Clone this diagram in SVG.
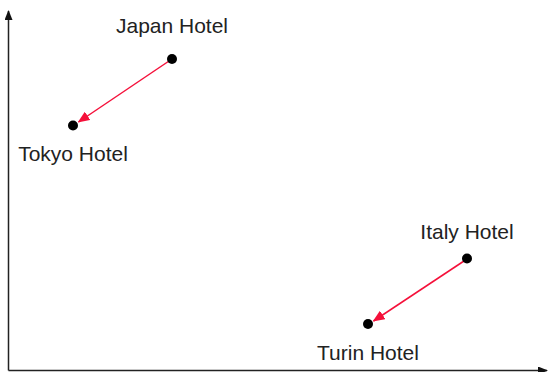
<svg xmlns="http://www.w3.org/2000/svg" width="548" height="372" viewBox="0 0 548 372">
<style>
.lbl{font-family:"Liberation Sans",Arial,Helvetica,sans-serif;font-size:21px;fill:#222;text-anchor:middle}
.dot{fill:#000}
.edge{stroke:#f5103a;stroke-width:1.5;fill:none}
.axis{stroke:#222;stroke-width:1.5;fill:none}
</style>
<defs>
<marker id="ah" markerWidth="12" markerHeight="10" refX="11" refY="5" orient="auto" markerUnits="userSpaceOnUse">
<path d="M0,0 L12,5 L0,10 Z" fill="#f5103a"/>
</marker>
<marker id="ax" markerWidth="10" markerHeight="8" refX="9" refY="4" orient="auto" markerUnits="userSpaceOnUse">
<path d="M0,0 L10,4 L0,8 Z" fill="#111"/>
</marker>
</defs>
<g id="axes">
<path class="axis" d="M8.5,370.5 L8.5,11" marker-end="url(#ax)"/>
<path class="axis" d="M8.5,370.5 L547,370.5" marker-end="url(#ax)"/>
</g>
<g id="connectors">
<path class="edge" d="M172,59 L78.5,122" marker-end="url(#ah)"/>
<path class="edge" d="M467,259 L373.5,321" marker-end="url(#ah)"/>
</g>
<g id="japan"><circle class="dot" cx="172" cy="59" r="5"/><text class="lbl" x="172" y="33">Japan Hotel</text></g>
<g id="tokyo"><circle class="dot" cx="73" cy="125.5" r="5"/><text class="lbl" x="73" y="161">Tokyo Hotel</text></g>
<g id="italy"><circle class="dot" cx="467" cy="258.5" r="5"/><text class="lbl" x="467" y="239">Italy Hotel</text></g>
<g id="turin"><circle class="dot" cx="368" cy="324" r="5"/><text class="lbl" x="368" y="360">Turin Hotel</text></g>
</svg>
